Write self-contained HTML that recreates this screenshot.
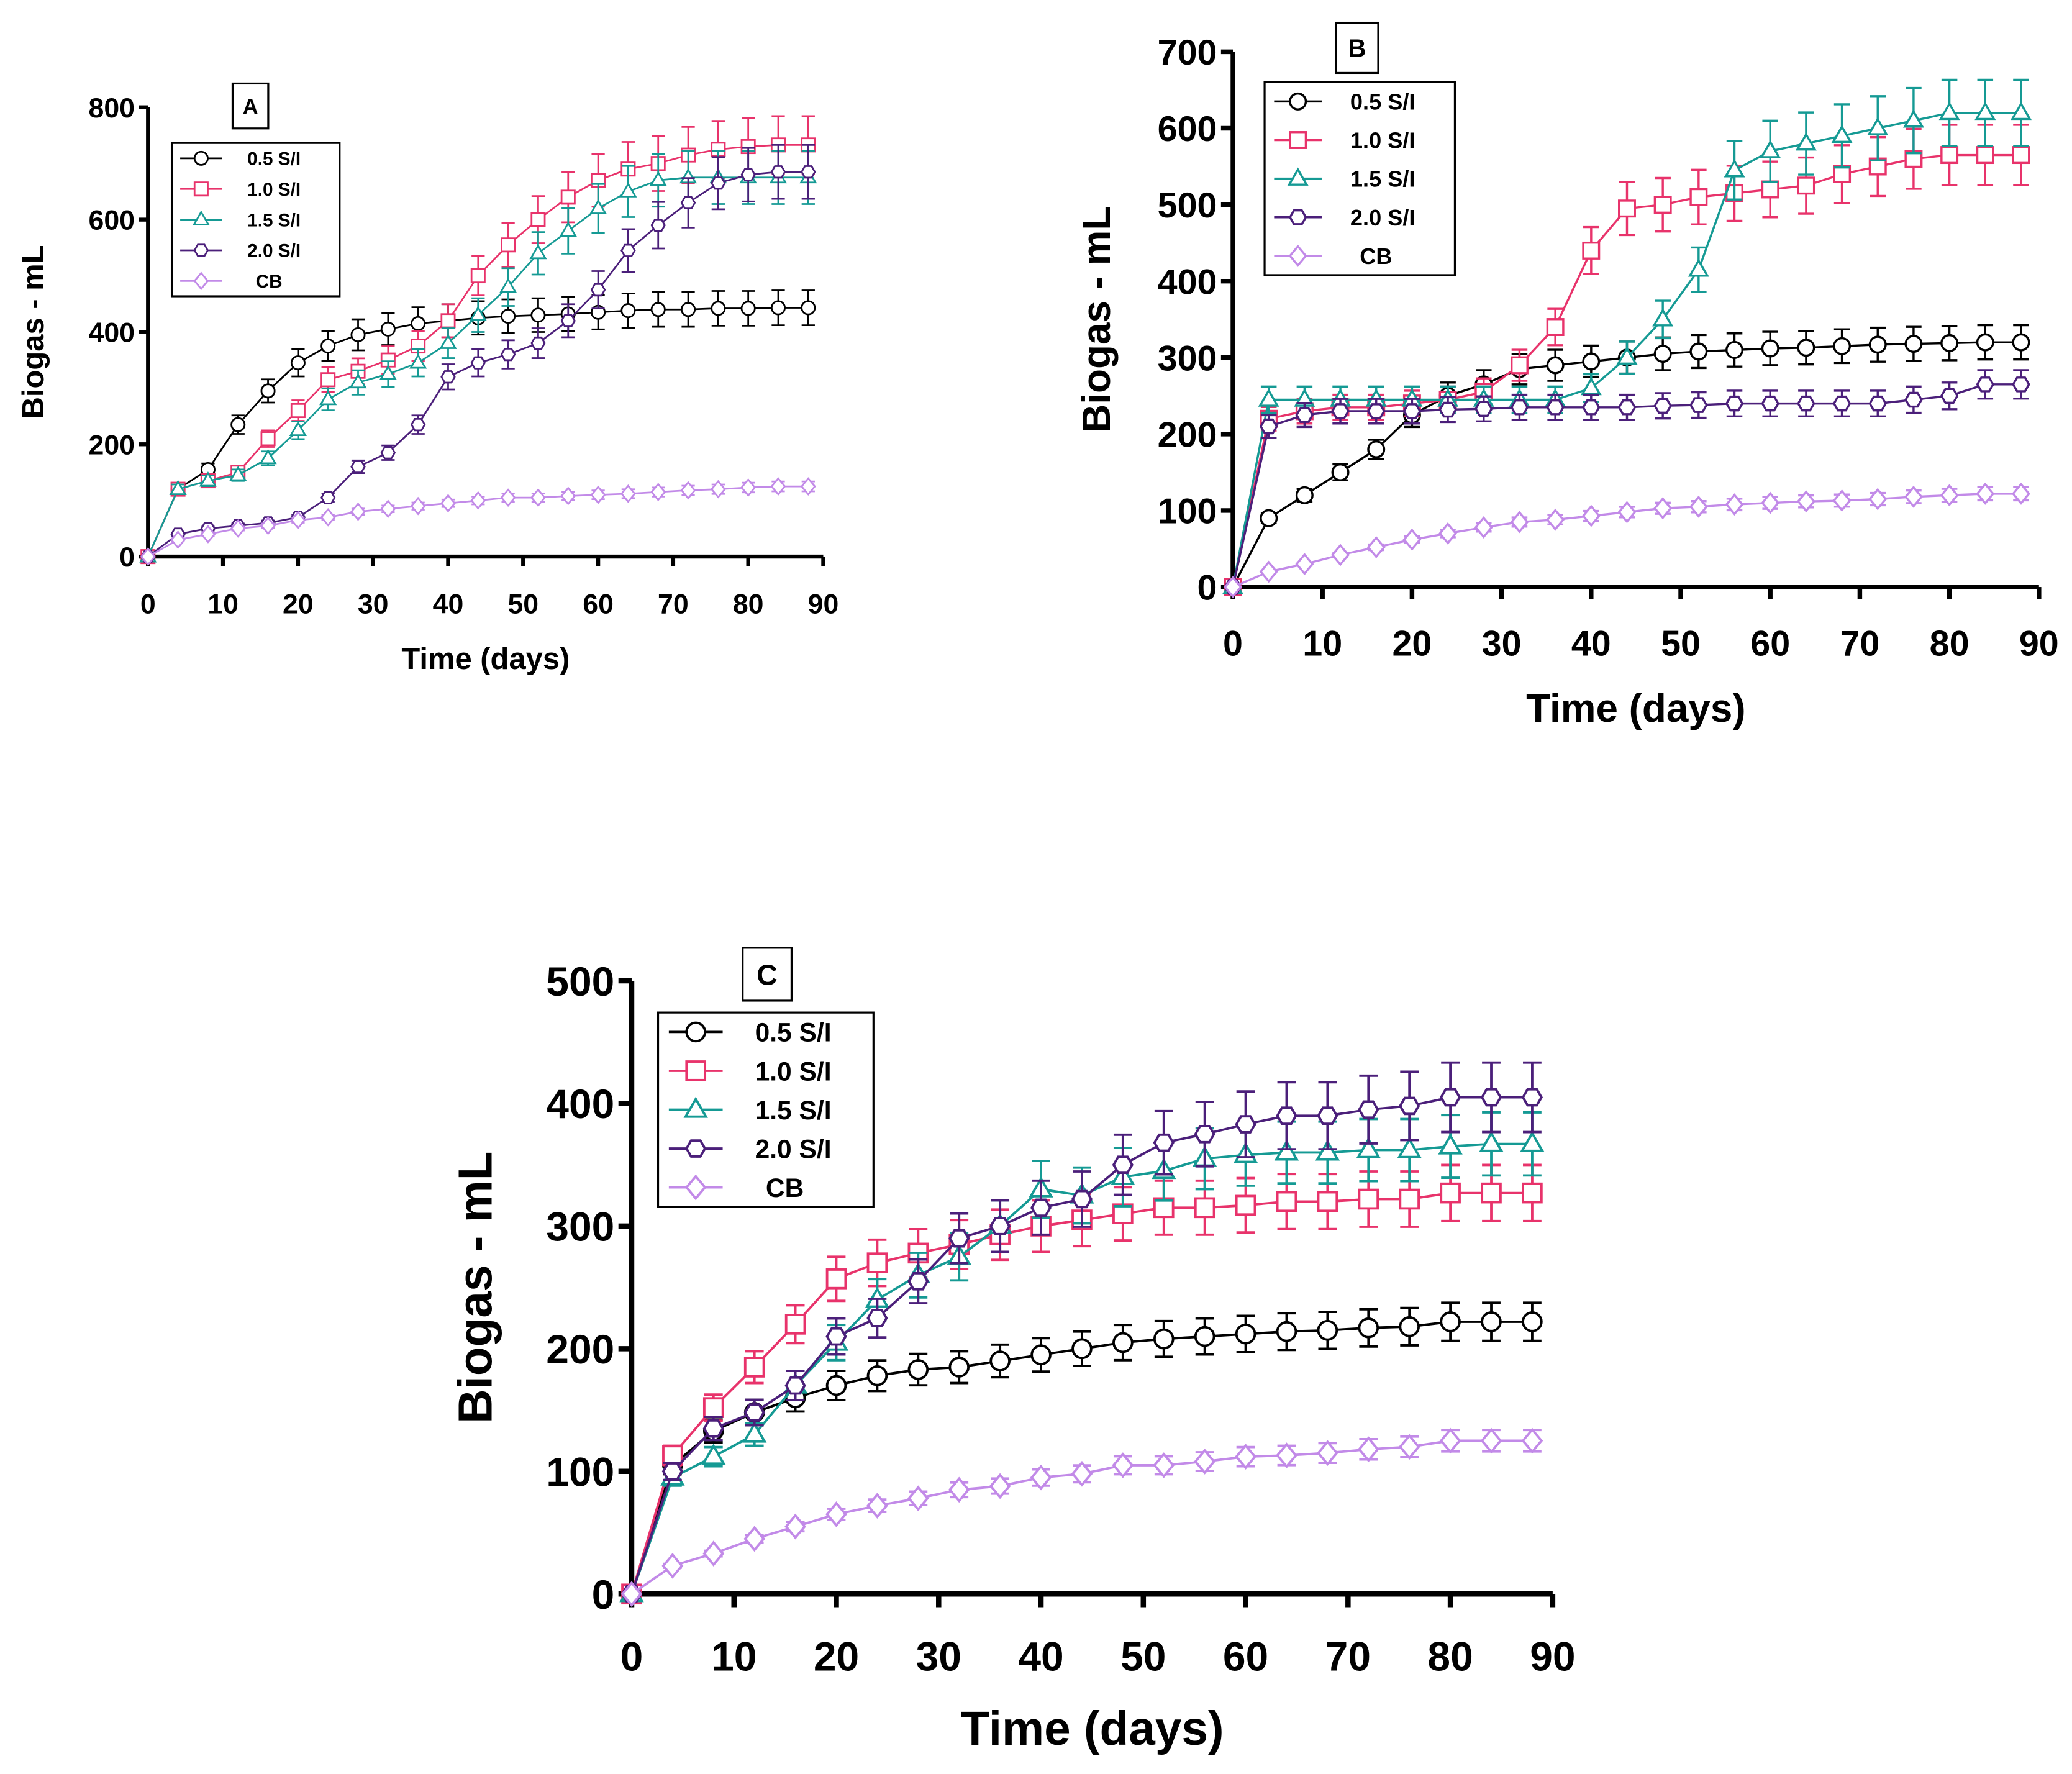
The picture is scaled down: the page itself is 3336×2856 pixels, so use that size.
<!DOCTYPE html>
<html><head><meta charset="utf-8"><style>html,body{margin:0;padding:0;background:#fff}svg{display:block}text{font-family:"Liberation Sans",Arial,sans-serif;font-weight:bold}</style></head>
<body>
<svg id="fig" xmlns="http://www.w3.org/2000/svg" width="3336" height="2856" viewBox="0 0 1568 1342"></svg>
<script>
const days=[0,4,8,12,16,20,24,28,32,36,40,44,48,52,56,60,64,68,72,76,80,84,88];
const seriesNames=["0.5 S/I","1.0 S/I","1.5 S/I","2.0 S/I","CB"];
const xTicks=[0,10,20,30,40,50,60,70,80,90];
const yTicksA=[0,200,400,600,800];
const yTicksB=[0,100,200,300,400,500,600,700];
const yTicksC=[0,100,200,300,400,500];
const A05=[0,120,155,235,295,345,375,395,405,415,420,425,428,430,432,435,438,440,440,442,442,443,443];
const A10=[0,120,135,150,210,260,315,330,350,375,420,500,555,600,640,670,690,700,715,725,730,733,733];
const A15=[0,120,135,145,175,225,280,310,325,345,380,430,480,540,580,620,650,670,675,675,675,675,675];
const A20=[0,40,50,55,60,70,105,160,185,235,320,345,360,380,420,475,545,590,630,665,680,685,685];
const ACB=[0,30,40,50,55,65,70,80,85,90,95,100,105,105,108,110,112,115,118,120,123,125,125];
const B05=[0,90,120,150,180,225,250,265,285,290,295,300,305,308,310,312,313,315,317,318,319,320,320];
const B10=[0,220,230,235,235,240,245,255,290,340,440,495,500,510,515,520,525,540,550,560,565,565,565];
const B15=[0,245,245,245,245,245,245,245,245,245,260,300,350,415,545,570,580,590,600,610,620,620,620];
const B20=[0,210,225,230,230,230,232,233,235,235,235,235,237,238,240,240,240,240,240,245,250,265,265];
const BCB=[0,20,30,42,52,62,70,78,85,88,93,98,103,105,108,110,112,113,115,118,120,122,122];
const C05=[0,105,133,148,160,170,178,183,185,190,195,200,205,208,210,212,214,215,217,218,222,222,222];
const C10=[0,113,152,185,220,257,270,278,285,293,300,305,310,315,315,317,320,320,322,322,327,327,327];
const C15=[0,95,112,130,170,205,240,260,275,300,330,325,340,345,355,358,360,360,362,362,365,367,367];
const C20=[0,100,135,148,170,210,225,255,290,300,315,322,350,368,375,383,390,390,395,398,405,405,405];
const CCB=[0,23,33,45,55,65,72,78,85,88,95,98,105,105,108,112,113,115,118,120,125,125,125];
const colors=["#000000","#e8336b","#159a94","#4b1f7a","#c28ae8"];
const shapes=["circle","square","triangle","hex","diamond"];
const NS="http://www.w3.org/2000/svg";
const svg=document.getElementById('fig');
function mk(tag,attrs,parent){const e=document.createElementNS(NS,tag);for(const k in attrs)e.setAttribute(k,attrs[k]);(parent||svg).appendChild(e);return e;}
function marker(g,shape,x,y,r,c,sw){
  let e;
  if(shape==="circle") e=mk('circle',{cx:x,cy:y,r:r},g);
  else if(shape==="square") e=mk('rect',{x:x-r,y:y-r,width:2*r,height:2*r},g);
  else if(shape==="triangle") e=mk('polygon',{points:`${x},${y-r*1.15} ${x-r*1.1},${y+r*0.75} ${x+r*1.1},${y+r*0.75}`},g);
  else if(shape==="hex"){let p=[];for(let i=0;i<6;i++){const a=Math.PI/3*i;p.push((x+r*Math.cos(a))+","+(y+r*Math.sin(a)));}e=mk('polygon',{points:p.join(' ')},g);}
  else e=mk('polygon',{points:`${x},${y-r*1.2} ${x+r},${y} ${x},${y+r*1.2} ${x-r},${y}`},g);
  e.setAttribute('fill','#fff');e.setAttribute('stroke',c);e.setAttribute('stroke-width',sw);
  return e;
}
function panel(P){
  const g=mk('g',{});
  
  
  const sx=v=>P.x0+(P.x1-P.x0)*v/90;
  const sy=v=>P.y0+(P.y1-P.y0)*v/P.ymax;
  const ax=mk('g',{stroke:'#000','stroke-width':P.aw,fill:'none'},g);
  
  
  mk('line',{x1:P.x0,y1:P.y1,x2:P.x0,y2:P.y0},ax);
  mk('line',{x1:P.x0,y1:P.y0,x2:P.x1,y2:P.y0},ax);
  xTicks.forEach(t=>{mk('line',{x1:sx(t),y1:P.y0,x2:sx(t),y2:P.y0+P.tl},ax);
    const tx=mk('text',{x:sx(t),y:P.xty,'font-size':P.fs,'text-anchor':'middle'},g);tx.textContent=t;
    });
  P.yt.forEach(t=>{mk('line',{x1:P.x0-P.tl,y1:sy(t),x2:P.x0,y2:sy(t)},ax);
    const tx=mk('text',{x:P.x0-P.tl-3,y:sy(t)+P.fs*0.36,'font-size':P.fs,'text-anchor':'end'},g);tx.textContent=t;
    });
  const xl=mk('text',{x:(P.x0+P.x1)/2,y:P.xly,'font-size':P.lfs,'text-anchor':'middle'},g);xl.textContent='Time (days)';
  
  const yl=mk('text',{x:0,y:0,'font-size':P.lfs,'text-anchor':'middle',transform:`translate(${P.ylx},${(P.y0+P.y1)/2}) rotate(-90)`},g);yl.textContent='Biogas - mL';
  
  P.data.forEach((d,si)=>{
    const sg=mk('g',{},g);
    
    
    const c=colors[si];
    d.forEach((v,i)=>{if(i===0)return;const e=v*0.07;const x=sx(days[i]);
      mk('line',{x1:x,y1:sy(v-e),x2:x,y2:sy(v+e),stroke:c,'stroke-width':P.lw},sg);
      mk('line',{x1:x-P.cap,y1:sy(v+e),x2:x+P.cap,y2:sy(v+e),stroke:c,'stroke-width':P.lw},sg);
      mk('line',{x1:x-P.cap,y1:sy(v-e),x2:x+P.cap,y2:sy(v-e),stroke:c,'stroke-width':P.lw},sg);});
    mk('polyline',{points:d.map((v,i)=>sx(days[i])+','+sy(v)).join(' '),fill:'none',stroke:c,'stroke-width':P.lw},sg);
    d.forEach((v,i)=>marker(sg,shapes[si],sx(days[i]),sy(v),P.mr,c,P.lw));
  });
  const L=P.leg;
  const lg=mk('g',{},g);
  
  mk('rect',{x:L.x,y:L.y,width:L.w,height:L.h,fill:'#fff',stroke:'#000','stroke-width':1.5},lg);
  seriesNames.forEach((n,si)=>{const yy=L.y+L.h*(si+0.5)/5;
    mk('line',{x1:L.x+L.w*0.05,y1:yy,x2:L.x+L.w*0.3,y2:yy,stroke:colors[si],'stroke-width':P.lw},lg);
    marker(lg,shapes[si],L.x+L.w*0.175,yy,P.mr,colors[si],P.lw);
    const t=mk('text',{x:L.x+L.w*(si===4?0.5:0.45),y:yy+L.fs*0.36,'font-size':L.fs},lg);t.textContent=n;
    });
  const B=P.box;
  mk('rect',{x:B.x,y:B.y,width:B.w,height:B.h,fill:'#fff',stroke:'#000','stroke-width':1.5},g);
  const bt=mk('text',{x:B.x+B.w/2,y:B.y+B.h/2+B.fs*0.36,'font-size':B.fs,'text-anchor':'middle'},g);bt.textContent=P.id;
  
}
panel({id:'A',x0:112,x1:623,y0:421,y1:81,ymax:800,yt:yTicksA,aw:3,tl:7,fs:21,xty:464,lfs:23,xly:506,ylx:33,lw:1.3,cap:5,mr:5,
  data:[A05,A10,A15,A20,ACB],leg:{x:130,y:108,w:127,h:116,fs:14},box:{x:176,y:63,w:27,h:34,fs:16}});
panel({id:'B',x0:933,x1:1543,y0:444,y1:39,ymax:700,yt:yTicksB,aw:3.5,tl:9,fs:27,xty:496,lfs:30,xly:546,ylx:840,lw:1.6,cap:6,mr:6,
  data:[B05,B10,B15,B20,BCB],leg:{x:957,y:62,w:144,h:146,fs:17},box:{x:1011,y:17,w:32,h:38,fs:19}});
panel({id:'C',x0:478,x1:1175,y0:1206,y1:742,ymax:500,yt:yTicksC,aw:4,tl:10,fs:31,xty:1264,lfs:36,xly:1320,ylx:372,lw:1.8,cap:7,mr:7,
  data:[C05,C10,C15,C20,CCB],leg:{x:498,y:766,w:163,h:147,fs:20},box:{x:562,y:717,w:37,h:40,fs:22}});
</script>
</body></html>
